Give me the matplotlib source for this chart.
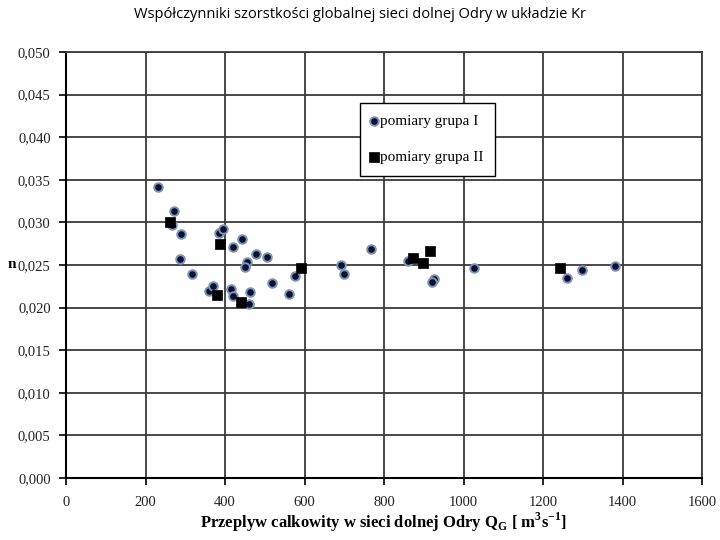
import matplotlib
matplotlib.use("Agg")
import matplotlib.pyplot as plt
from matplotlib.ticker import FuncFormatter, MultipleLocator

# Data: group I (circles)
q1 = [231, 272, 266, 289, 288, 318, 360, 371, 384, 396, 420, 442, 414, 421,
      456, 451, 464, 461, 477, 506, 518, 562, 577, 693, 700, 767, 860, 925,
      920, 1027, 1260, 1297, 1380]
n1 = [0.0342, 0.0313, 0.0297, 0.0286, 0.0257, 0.0239, 0.0220, 0.0225, 0.0287,
      0.0292, 0.0271, 0.0280, 0.0222, 0.0214, 0.0254, 0.0248, 0.0218, 0.0204,
      0.0263, 0.0259, 0.0229, 0.0216, 0.0237, 0.0250, 0.0239, 0.0269, 0.0255,
      0.0233, 0.0230, 0.0246, 0.0235, 0.0244, 0.0249]
# Data: group II (squares)
q2 = [262, 387, 381, 441, 592, 874, 898, 915, 1243]
n2 = [0.0301, 0.0275, 0.0215, 0.0207, 0.0247, 0.0258, 0.0252, 0.0267, 0.0246]

title = "Współczynniki szorstkości globalnej sieci dolnej Odry w układzie Kr"
label1 = "pomiary grupa I"
label2 = "pomiary grupa II"

serif = "Liberation Serif"

fig = plt.figure(figsize=(7.2, 5.4), dpi=100)
ax = fig.add_axes([66/720, 1-478/540, 636/720, 426/540])

ax.set_xlim(0, 1600)
ax.set_ylim(0, 0.050)
ax.xaxis.set_major_locator(MultipleLocator(200))
ax.yaxis.set_major_locator(MultipleLocator(0.005))
ax.yaxis.set_major_formatter(FuncFormatter(lambda v, p: f"{v:.3f}".replace(".", ",")))

ax.grid(True, color="#3a3a3a", linewidth=1.3)
ax.set_axisbelow(True)
for s in ["top", "right"]:
    ax.spines[s].set_color("#3a3a3a")
    ax.spines[s].set_linewidth(1.3)
for s in ["left", "bottom"]:
    ax.spines[s].set_color("black")
    ax.spines[s].set_linewidth(1.5)

ax.tick_params(axis="both", direction="out", length=5, width=1.2, color="black",
               labelsize=10.5, labelcolor="#222222")
for lab in ax.get_xticklabels() + ax.get_yticklabels():
    lab.set_fontfamily(serif)
ax.tick_params(axis="x", pad=8)
ax.tick_params(axis="y", pad=6)

ax.scatter(q1, n1, s=38, marker="o", facecolor="#0b1030", edgecolor="#7d93b5",
           linewidth=1.4, label=label1, zorder=3)
ax.scatter(q2, n2, s=62, marker="s", facecolor="black", edgecolor="black",
           linewidth=0.5, label=label2, zorder=4)

leg = ax.legend(loc="upper left", bbox_to_anchor=(0.462, 0.880), frameon=True,
                fancybox=False, edgecolor="black", framealpha=1,
                prop={"family": serif, "size": 11}, labelspacing=1.45,
                handlelength=0.4, handletextpad=0.2, borderpad=0.75,
                borderaxespad=0)
leg.get_frame().set_linewidth(1.0)

ax.set_xlabel("Przeplyw calkowity w sieci dolnej Odry Q$_\\mathregular{G}$ [ m$^\\mathregular{3}$s$^\\mathregular{-1}$]",
              fontfamily=serif, fontweight="bold", fontsize=12, labelpad=1)
fig.text(8/720, 1-265/540, "n", fontfamily=serif, fontweight="bold", fontsize=11,
         ha="left", va="center")

fig.text(0.5, 1-15/540, title, fontfamily="Open Sans", fontsize=10.5, ha="center", va="center")

fig.savefig("out.png", dpi=100)
